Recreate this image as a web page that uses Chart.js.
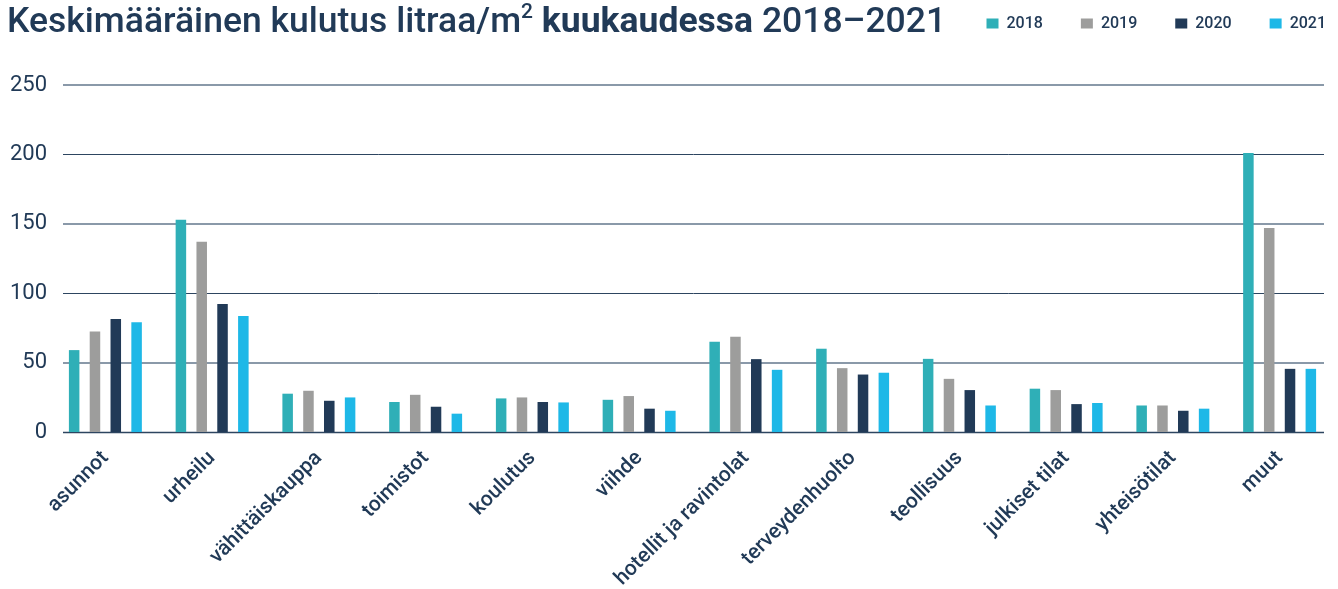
<!DOCTYPE html>
<html>
<head>
<meta charset="utf-8">
<script src="https://cdn.jsdelivr.net/npm/chart.js@4/dist/chart.umd.min.js"></script>
<style>
  html, body { margin: 0; padding: 0; background: #ffffff; }
  #wrap { position: relative; width: 1338px; height: 589px; overflow: hidden; }
  #title { position: absolute; left: 7px; top: 3px; font-family: Roboto, sans-serif; font-weight: 500; font-size: 35.5px; line-height: 35px; color: #213a57; white-space: nowrap; }
  #title b { font-weight: 700; }
  #title sup { font-size: 21px; line-height: 0; vertical-align: 14px; }
  canvas { position: absolute; left: 0; top: 0; }
</style>
</head>
<body>
<div id="wrap">
  <canvas id="c" width="1338" height="589"></canvas>
  <div id="title">Keskimääräinen kulutus litraa/m<sup>2</sup> <b>kuukaudessa</b> 2018–2021</div>
</div>
<script>
const categories = ['asunnot', 'urheilu', 'vähittäiskauppa', 'toimistot', 'koulutus', 'viihde', 'hotellit ja ravintolat', 'terveydenhuolto', 'teollisuus', 'julkiset tilat', 'yhteisötilat', 'muut'];
const seriesNames = ['2018', '2019', '2020', '2021'];
const values2018 = [59, 153, 27.6, 21.6, 24.2, 23.2, 65, 60, 52.7, 31.2, 19.1, 201];
const values2019 = [72.4, 137, 29.7, 26.8, 24.9, 25.9, 68.6, 46, 38.3, 30.2, 19.1, 147];
const values2020 = [81.5, 92.3, 22.5, 18.2, 21.6, 16.8, 52.5, 41.4, 30.2, 20.1, 15.3, 45.5];
const values2021 = [79.1, 83.5, 24.9, 13.2, 21.3, 15.3, 44.8, 42.7, 19.1, 20.9, 16.8, 45.5];
const yTickValues = [0, 50, 100, 150, 200, 250];

const colors = ['#2fafb7', '#9d9d9c', '#213a57', '#1eb8e7'];
const textColor = '#213a57';

const gridPlugin = {
  id: 'customGrid',
  beforeDatasetsDraw(chart) {
    const ctx = chart.ctx;
    const y = chart.scales.y;
    const area = chart.chartArea;
    const x0 = area.left + 11, x1 = area.right - 9;
    ctx.save();
    yTickValues.forEach(v => {
      const py = y.getPixelForValue(v);
      const dark = (v % 100 === 0);
      ctx.beginPath();
      if (dark) {
        ctx.strokeStyle = '#2d4560';
        ctx.lineWidth = v === 0 ? 1.5 : 1;
        const yy = Math.round(py) + 0.5;
        ctx.moveTo(x0, yy); ctx.lineTo(x1, yy);
      } else {
        ctx.strokeStyle = '#8a99a9';
        ctx.lineWidth = 2;
        const yy = Math.round(py);
        ctx.moveTo(x0, yy); ctx.lineTo(x1, yy);
      }
      ctx.stroke();
    });
    ctx.restore();
  }
};

const legendShift = {
  id: 'legendShift',
  afterLayout(chart) {
    const l = chart.legend;
    if (!l) return;
    const dx = 31, dy = -67.5;
    l.left += dx; l.right += dx; l.top += dy;
    l.bottom = l.top + 80;
  }
};

const datasetValues = [values2018, values2019, values2020, values2021];

new Chart(document.getElementById('c'), {
  type: 'bar',
  data: {
    labels: categories,
    datasets: seriesNames.map((name, i) => ({
      label: name,
      data: datasetValues[i],
      backgroundColor: colors[i],
      borderWidth: 0,
      categoryPercentage: 0.78,
      barPercentage: 0.505
    }))
  },
  options: {
    responsive: false,
    devicePixelRatio: 1,
    animation: false,
    layout: { padding: { top: 45, left: 0, right: 5, bottom: 0 } },
    plugins: {
      legend: {
        position: 'top',
        align: 'end',
        maxHeight: 40,
        labels: {
          boxWidth: 12,
          boxHeight: 10,
          padding: 38,
          color: textColor,
          font: { family: 'Roboto', size: 16, weight: '500' }
        }
      },
      tooltip: { enabled: false },
      title: { display: false }
    },
    scales: {
      x: {
        grid: { display: false, drawTicks: false },
        border: { display: false },
        ticks: {
          color: textColor,
          font: { family: 'Roboto', size: 21, weight: '500' },
          maxRotation: 45,
          minRotation: 45,
          autoSkip: false,
          padding: 14
        },
        afterFit(s) { s.height = 157; }
      },
      y: {
        min: 0,
        max: 250,
        grid: { display: false, drawTicks: false },
        border: { display: false },
        ticks: {
          stepSize: 50,
          color: textColor,
          font: { family: 'Roboto', size: 22 },
          padding: 5
        },
        afterFit(s) { s.width = 52; }
      }
    }
  },
  plugins: [gridPlugin, legendShift]
});
</script>
</body>
</html>
